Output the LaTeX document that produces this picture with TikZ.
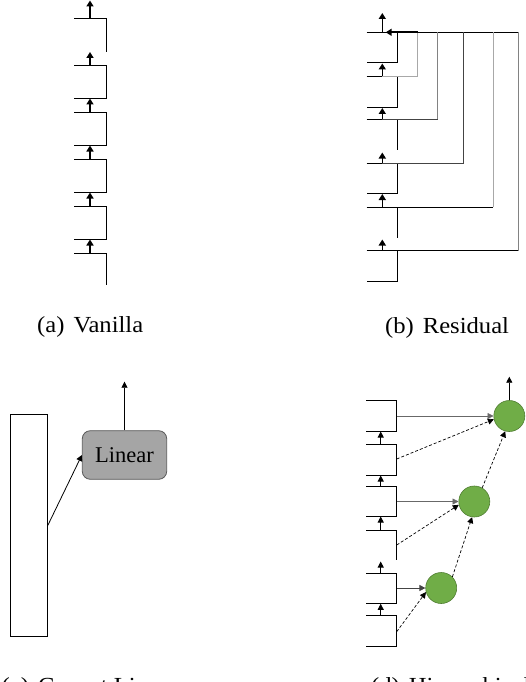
\documentclass[tikz,border=0pt]{standalone}
\usepackage{fontspec}
\setmainfont{Liberation Serif}
\newfontfamily\capfont{Liberation Serif}[FakeStretch=1.07]
\usetikzlibrary{arrows.meta}
\definecolor{grn}{HTML}{70AD47}
\definecolor{grnb}{HTML}{507E32}
\definecolor{linfill}{HTML}{A5A5A5}
\definecolor{linbd}{HTML}{595959}
\definecolor{lgray}{HTML}{A8A8A8}
\definecolor{mgray}{HTML}{828282}
\definecolor{dgray}{HTML}{444444}
\begin{document}
\begin{tikzpicture}[x=1pt,y=-1pt,
  blk/.style={line width=0.9pt, black},
  upar/.style={line width=1.6pt, -{Triangle[length=6pt,width=7pt]}},
  thinar/.style={line width=0.8pt, -{Triangle[length=6pt,width=6pt]}},
  dsh/.style={thinar, line width=0.7pt, dash pattern=on 3pt off 2pt},
  circ/.style={circle, minimum size=31pt, inner sep=0pt, fill=grn, draw=grnb, line width=0.6pt},
  captxt/.style={anchor=base west, inner sep=0pt, font=\capfont\fontsize{23}{27}\selectfont}]
\clip (0,0) rectangle (526,682);
% ---------------- (a) Vanilla ----------------
\draw[blk] (74,18) -- (106.7,18) -- (106.7,52);
\foreach \t/\b in {65/98,112/145,159/192,206/239}
  \draw[blk] (74,\t) -| (106.7,\b) -- (74,\b);
\draw[blk] (74,253) -- (106.7,253) -- (106.7,285);
\coordinate (va0) at (90,0.5);
\coordinate (va0s) at (90,18);
\draw[upar] (va0s) -- (va0);
\foreach \s/\e [count=\i] in {65/52,112/98.5,159/145.5,206/192.5,253/239.5}{
  \coordinate (vas\i) at (90,\s);
  \coordinate (vae\i) at (90,\e);
  \draw[upar] (vas\i) -- (vae\i);
}
\node[captxt] (capa) at (37,332) {(a)\hspace{9pt}Vanilla};
% ---------------- (b) Residual ----------------
\draw[blk] (366.7,32.3) -- (518.3,32.3);
\draw[blk] (397.7,32.3) -- (397.7,62.7) -- (366.7,62.7);
\draw[blk] (366.7,76) -| (397.7,107.3) -- (366.7,107.3);
\draw[blk] (366.7,119) -- (397.7,119) -- (397.7,150);
\draw[blk] (366.7,163.3) -| (397.7,193.3) -- (366.7,193.3);
\draw[blk] (366.7,207.3) -- (397.7,207.3) -- (397.7,238.3);
\draw[blk] (366.7,250.7) -| (397.7,281.7) -- (366.7,281.7);
\coordinate (rt) at (382.3,13);
\coordinate (rts) at (382.3,32.3);
\draw[upar] (rts) -- (rt);
\foreach \s/\e [count=\i] in {76/63.5,119/108,163.3/152.5,207.3/194,250.7/239.5}{
  \coordinate (rs\i) at (382.3,\s);
  \coordinate (re\i) at (382.3,\e);
  \draw[upar] (rs\i) -- (re\i);
}
% residual skip connections
\coordinate (rk1) at (417.7,32.3);
\coordinate (rk2) at (437.3,32.3);
\coordinate (rk3) at (463.3,32.3);
\coordinate (rk4) at (493.3,32.3);
\coordinate (rk5) at (518.3,32.3);
\draw[line width=0.9pt, lgray] (rs1) -| (rk1);
\draw[line width=0.9pt, dgray] (rs2) -| (rk2);
\draw[line width=1.6pt, mgray] (rk2) -- ++(0,86.7);
\draw[line width=0.9pt, dgray] (rs3) -| (rk3);
\draw[line width=0.9pt, black] (rs4) -- ++(111,0);
\draw[line width=0.9pt, lgray] (rk4) -- ++(0,175);
\draw[line width=0.9pt, black] (rs5) -- ++(136,0);
\draw[line width=1.4pt, mgray] (rk5) -- ++(0,218.4);
\coordinate (rin) at (385.7,32.3);
\draw[line width=1.6pt, -{Triangle[length=6pt,width=7pt]}] (rk1) -- (rin);
\node[captxt] (capb) at (385,333) {(b)\hspace{9pt}Residual};
% ---------------- (c) Concat Linear ----------------
\node[draw, blk, minimum width=37pt, minimum height=222.4pt, inner sep=0pt] (cat) at (28.8,525.5) {};
\node[draw=linbd, fill=linfill, line width=0.8pt, rounded corners=8pt, minimum width=84.4pt, minimum height=48.6pt, inner sep=0pt, font=\fontsize{22.5}{27}\selectfont] (lin) at (124.5,455) {Linear};
\draw[thinar] (cat.east) -- (lin.west);
\coordinate (linout) at (124.5,381.7);
\draw[thinar] (lin.north) -- (linout);
\node[captxt] (capc) at (1.5,693) {(c)\hspace{9pt}Concat Linear};
% ---------------- (d) Hierarchical ----------------
\draw[blk] (366,400.7) -| (396.7,431) -- (366,431);
\draw[blk] (366,444.3) -| (396.7,475) -- (366,475);
\draw[blk] (366,486) -| (396.7,516) -- (366,516);
\draw[blk] (366,530) -- (396.7,530) -- (396.7,560);
\draw[blk] (366,573.3) -| (396.7,603.3) -- (366,603.3);
\draw[blk] (366,615.7) -| (396.7,646) -- (366,646);
\foreach \s/\e [count=\i] in {444.3/431.5,486/475.5,530/516.5,573.3/561.5,615.7/603.8}{
  \coordinate (hs\i) at (380.7,\s);
  \coordinate (he\i) at (380.7,\e);
  \draw[thinar] (hs\i) -- (he\i);
}
\node[circ] (c1) at (509.3,416) {};
\node[circ] (c2) at (474.3,501.5) {};
\node[circ] (c3) at (441.2,588) {};
\coordinate (hout) at (509.3,376.7);
\draw[thinar] (c1.north) -- (hout);
\coordinate (b1) at (396.7,416);
\coordinate (b2) at (396.7,459);
\coordinate (b3) at (396.7,501.5);
\coordinate (b4) at (396.7,545);
\coordinate (b5) at (396.7,588);
\coordinate (b6) at (396.7,631.7);
\draw[thinar, mgray!80!black] (b1) -- (c1.west);
\draw[thinar, mgray!80!black] (b3) -- (c2.west);
\draw[thinar, dgray] (b5) -- (c3.west);
\draw[dsh] (b2) -- (c1.192);
\draw[dsh] (b4) -- (c2.192);
\draw[dsh] (b6) -- (c3.195);
\draw[dsh] (c2.60) -- (c1.255);
\draw[dsh] (c3.45) -- (c2.262);
\node[captxt] (capd) at (371,693) {(d)\hspace{9pt}Hierarchical};
\end{tikzpicture}
\end{document}
